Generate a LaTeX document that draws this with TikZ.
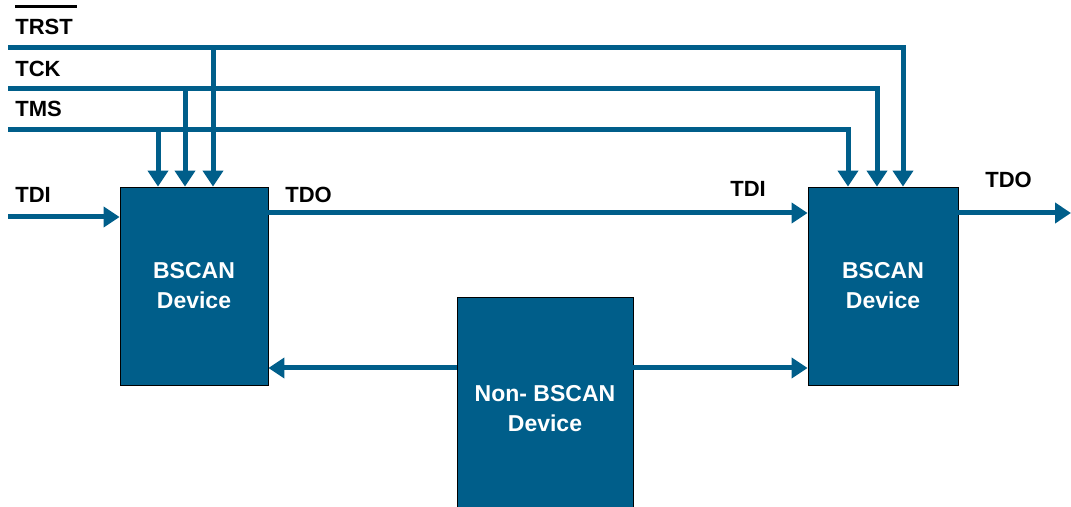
\documentclass[tikz,border=0pt]{standalone}
\usepackage{fontspec}
\setmainfont{Liberation Sans}
\usetikzlibrary{arrows.meta}
\definecolor{jtagblue}{RGB}{0,94,138}

\begin{document}
\begin{tikzpicture}[x=0.5pt,y=-0.5pt,
        bus/.style={draw=jtagblue,line width=2.5pt,line join=miter},
        sig/.style={bus,-{Triangle[width=10pt,length=8pt]}},
        dev/.style={draw=black,thin,fill=jtagblue,text=white,align=center,
            font=\bfseries\fontsize{11.5}{15}\selectfont,inner sep=0pt},
        lbl/.style={font=\bfseries\fontsize{11}{13}\selectfont,anchor=base west,
            inner sep=0pt}]
\useasboundingbox (0,0) rectangle (1071,507);

% devices
\node[dev,minimum width=74pt,minimum height=99pt] (dev1) at (194,286) {BSCAN\\Device};
\node[dev,minimum width=75pt,minimum height=99pt] (dev2) at (883,286) {BSCAN\\Device};
\node[dev,minimum width=88pt,minimum height=112pt] (nonbs) at (545,409) {Non- BSCAN\\Device};

% signal names
\node[lbl] (ltrst) at (15,35) {\makebox[0pt][l]{\rule[13.5pt]{31pt}{1.5pt}}TRST};
\node[lbl] (ltck) at (15,77) {TCK};
\node[lbl] (ltms) at (15,117) {TMS};
\node[lbl] (ltdi1) at (15,203) {TDI};
\node[lbl] (ltdo1) at (285,203) {TDO};
\node[lbl] (ltdi2) at (730,197) {TDI};
\node[lbl] (ltdo2) at (985,188) {TDO};

\coordinate (trst) at (8,48);
\coordinate (tck) at (8,89);
\coordinate (tms) at (8,130);
\coordinate (tdi) at (8,217);
\coordinate (tdo) at (1071,213);

% control bus
\draw[sig] (trst) -- (903,48) -- (903,0 |- dev2.north);
\draw[sig] (tck) -- (877,89) -- (877,0 |- dev2.north);
\draw[sig] (tms) -- (848,130) -- (848,0 |- dev2.north);
\draw[sig] (158,130) -- (158,0 |- dev1.north);
\draw[sig] (185,89) -- (185,0 |- dev1.north);
\draw[sig] (213,48) -- (213,0 |- dev1.north);

% scan chain
\draw[sig] (tdi) -- (dev1.west |- tdi);
\draw[sig] (dev1.east |- tdo) -- (dev2.west |- tdo);
\draw[sig] (dev2.east |- tdo) -- (tdo);

% non-bscan links
\draw[sig] (nonbs.west |- 0,368) -- (dev1.east |- 0,368);
\draw[sig] (nonbs.east |- 0,368) -- (dev2.west |- 0,368);
\end{tikzpicture}
\end{document}
